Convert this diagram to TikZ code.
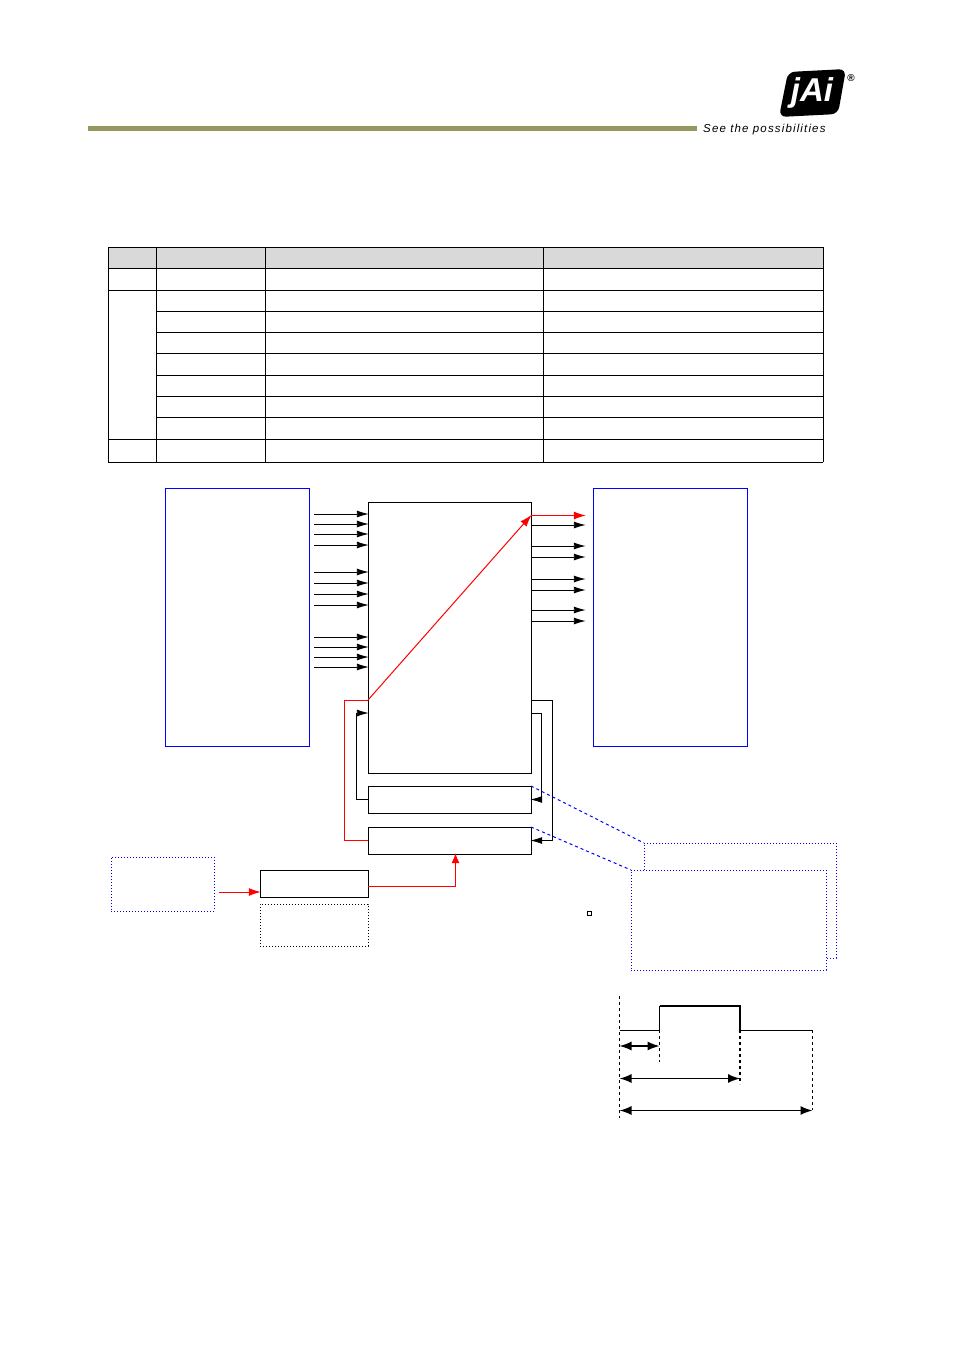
\documentclass[tikz,border=0pt]{standalone}
\usepackage{fontspec}
\setmainfont{Liberation Sans}
\newfontfamily\tagfont[LetterSpace=10]{Liberation Sans}
\usetikzlibrary{arrows.meta, positioning}
\definecolor{barolive}{HTML}{96965F}
\definecolor{headgrey}{HTML}{D9D9D9}

\begin{document}
\begin{tikzpicture}[
    x=1pt, y=-1pt,
    box/.style={draw, line width=1pt, anchor=north west, inner sep=0pt, outer sep=0pt},
    bluebox/.style={box, draw=blue},
    dotbox/.style={box, draw=blue, dotted, line width=1pt, fill=white},
    sig/.style={draw, line width=0.9pt, shorten >=-0.8pt, -{Latex[length=12pt,width=7pt]}},
    redsig/.style={sig, draw=red, line width=1pt, -{Latex[length=12pt,width=8pt,red]}},
    zoomline/.style={draw=blue, dashed, line width=1pt},
    span/.style={draw, line width=1.4pt, {Latex[length=12pt,width=9pt]}-{Latex[length=12pt,width=9pt]}},
    tick/.style={draw, dashed, line width=0.9pt}
]
\useasboundingbox (0,0) rectangle (955,1350);

% Header bar and logo
\fill[barolive] (88,126) rectangle (697,131);
\fill[black, rounded corners=7pt] (788,72) -- (846,69) -- (838,114) -- (779,117) -- cycle;
\node[text=white, font=\bfseries\itshape\fontsize{33}{33}\selectfont] (logo) at (812,93) {jAi};
\node[font=\bfseries\fontsize{10}{10}\selectfont] (reg) at (851,78) {®};
\node[font=\tagfont\itshape\fontsize{11.5}{12}\selectfont, anchor=west, inner sep=0pt] (tag) at (703,129.5) {See the possibilities};

% Table
\fill[headgrey] (108,247) rectangle (823,268);
\foreach \ypos in {247,268,290,439,462}
    \draw[line width=0.9pt] (108,\ypos) -- (823,\ypos);
\foreach \ypos in {311,332,353,375,396,417}
    \draw[line width=0.9pt] (156,\ypos) -- (823,\ypos);
\foreach \xpos in {108,156,265,543,823}
    \draw[line width=0.9pt] (\xpos,247) -- (\xpos,462);

% Big blocks
\node[bluebox, minimum width=144pt, minimum height=258pt] (inlist) at (165,488) {};
\node[bluebox, minimum width=154pt, minimum height=258pt] (outlist) at (593,488) {};
\node[box, minimum width=163pt, minimum height=271pt] (matrix) at (368,502) {};
\node[box, minimum width=163pt, minimum height=27pt] (gateone) at (368,786) {};
\node[box, minimum width=163pt, minimum height=27pt] (gatetwo) at (368,827) {};

% Trigger source
\node[dotbox, minimum width=103pt, minimum height=54pt] (source) at (111,857) {};
\node[box, minimum width=108pt, minimum height=27pt] (pulse) at (260,870) {};
\node[box, dotted, minimum width=108pt, minimum height=42pt] (note) at (260,904) {};
\coordinate (sourceout) at (219,892);
\coordinate (pulsein) at (260,892);
\draw[redsig] (sourceout) -- (pulsein);
\draw[redsig, -{Latex[length=10pt,width=8pt,red]}] (pulse.east |- 0,886) -| (gatetwo.south -| 455.5,0);

% Inputs
\foreach \ypos in {514,524,534,545,572,583,594,605,637,647,657,667}
    \draw[sig] (314,\ypos) -- (matrix.west |- 0,\ypos);

% Outputs
\foreach \ypos in {525,546,557,579,590,610,621}
    \draw[sig] (matrix.east |- 0,\ypos) -- (585,\ypos);
\coordinate (redout) at (531,515.5);
\draw[redsig] (redout) -- (585,515.5);

% Routed path
\coordinate (redin) at (368,700);
\draw[red, line width=1pt] (gatetwo.west) -| (344,700) -- (redin);
\draw[redsig] (redin) -- (redout);

% Feedback
\draw[sig] (gateone.west) -| (356,713) -- (matrix.west |- 0,713);
\draw[sig] (matrix.east |- 0,713) -- (541,713) |- (gateone.east);
\draw[sig] (matrix.east |- 0,700) -- (552,700) |- (gatetwo.east);

% Call-outs
\node[dotbox, minimum width=192pt, minimum height=115pt] (backcall) at (644,843) {};
\node[dotbox, minimum width=195pt, minimum height=100pt] (frontcall) at (631,870) {};
\draw[zoomline] (gateone.north east) -- (backcall.north west);
\draw[zoomline] (gatetwo.north east) -- (frontcall.north west);
\node[draw, line width=0.9pt, minimum size=4pt, inner sep=0pt] (dot) at (589,913) {};

% Timing
\coordinate (tzero) at (619.5,996);
\coordinate (tzeroend) at (619.5,1118);
\coordinate (rise) at (659.5,1030);
\coordinate (fall) at (740,1030);
\coordinate (stop) at (812.5,1030);
\draw[tick] (tzero) -- (tzeroend);
\draw[line width=0.8pt] (tzero |- rise) -- (rise);
\draw[line width=0.9pt] (rise) -- (659.5,1006);
\draw[line width=1.6pt] (659.5,1006) -- (740,1006) -- (fall);
\draw[line width=0.8pt] (fall) -- (stop);
\draw[tick] (rise) -- (659.5,1062);
\draw[tick, line width=1.3pt] (fall) -- (740,1084);
\draw[tick] (stop) -- (812.5,1110);
\draw[span] (619.5,1046) -- (659.5,1046);
\draw[span] (619.5,1078.5) -- (740,1078.5);
\draw[span] (619.5,1110.5) -- (812.5,1110.5);

\end{tikzpicture}
\end{document}
